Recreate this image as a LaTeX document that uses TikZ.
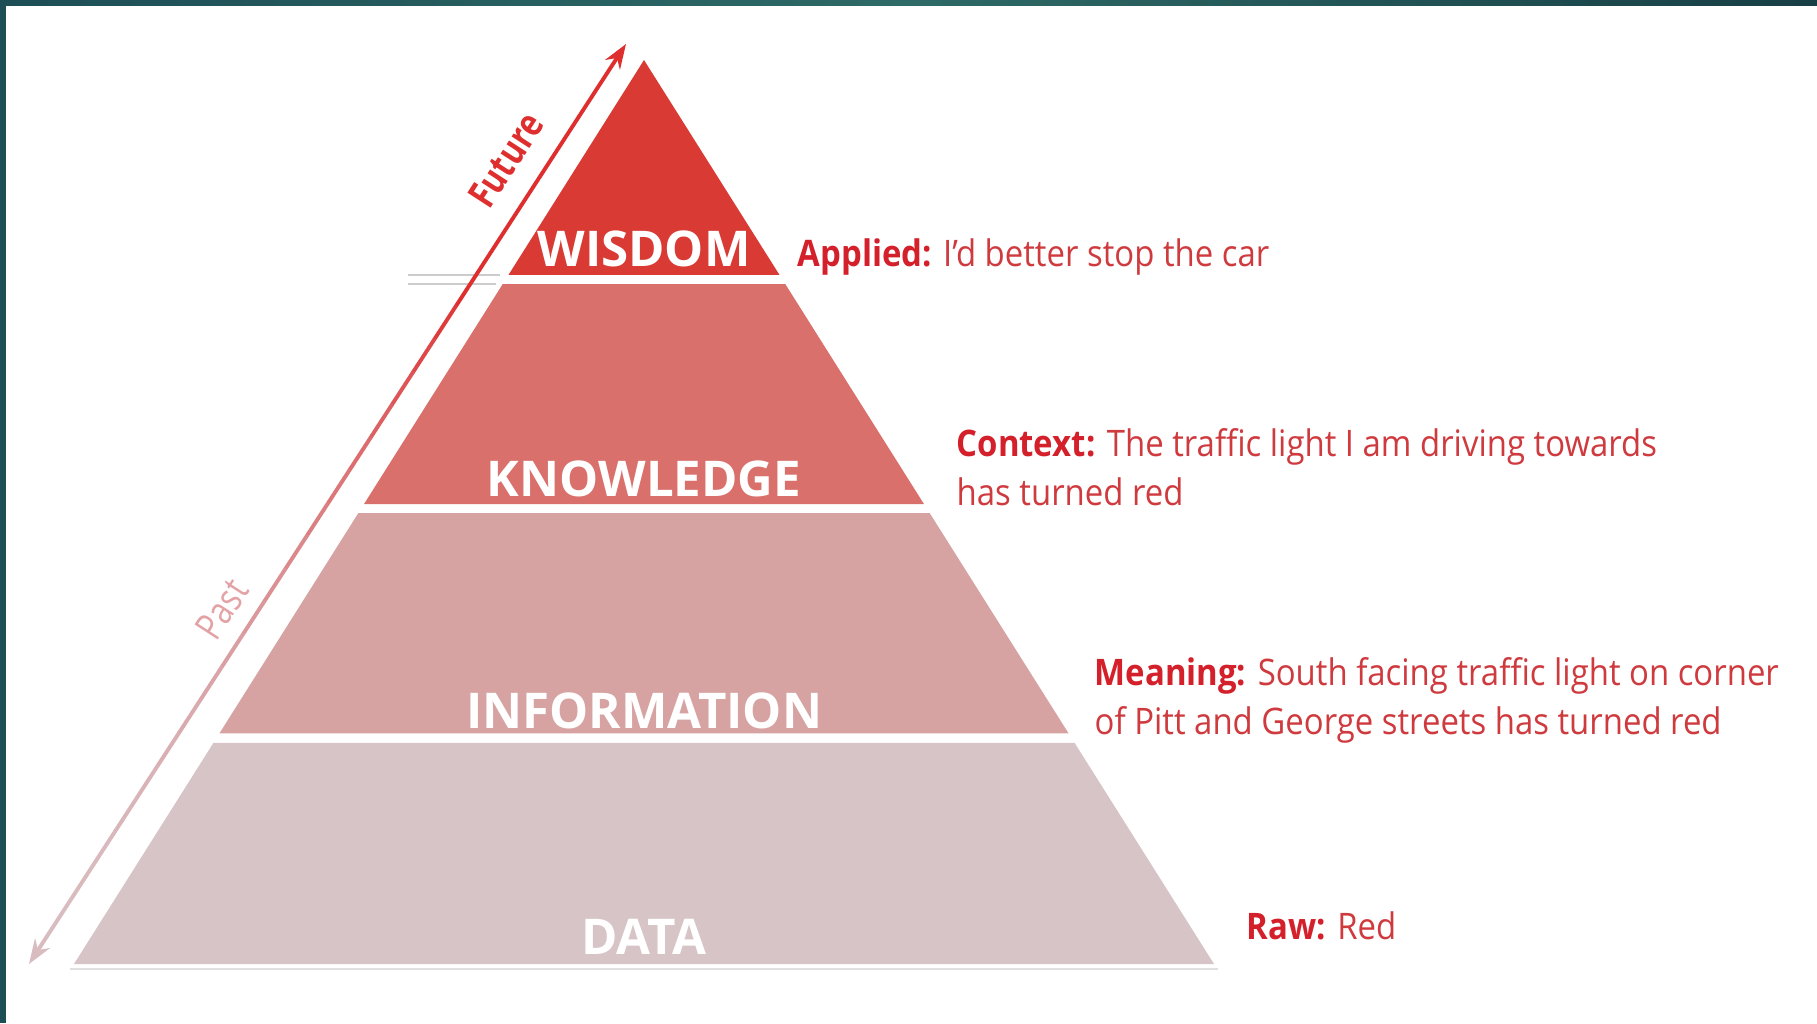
\documentclass[tikz,border=0pt]{standalone}
\usepackage{fontspec}
\setmainfont{Open Sans}
\newfontfamily\narrowfont[FakeStretch=0.8]{Open Sans}
\newfontfamily\notefont[FakeStretch=0.9]{Open Sans}
\usetikzlibrary{arrows.meta,calc,positioning}

\definecolor{frameteal}{HTML}{1D4E56}
\definecolor{frameteal2}{HTML}{2E6A66}
\definecolor{wisdomred}{HTML}{D93A33}
\definecolor{knowred}{HTML}{D9706B}
\definecolor{infored}{HTML}{D6A3A2}
\definecolor{datared}{HTML}{D7C4C6}
\definecolor{arrowred}{HTML}{DE2E2E}
\definecolor{arrowpale}{HTML}{D9BCC0}
\definecolor{pastpink}{HTML}{E3A3A6}
\definecolor{notered}{HTML}{CF3A3E}
\definecolor{notebold}{HTML}{D4202A}

\begin{document}
\begin{tikzpicture}[x=0.01cm,y=-0.01cm,
	lvl/.style={anchor=base, text=white,
		font=\fontsize{14}{16}\selectfont\bfseries},
	note/.style={anchor=base west, align=left, inner sep=0pt, text=notered,
		font=\notefont\fontsize{10.4}{13.9}\selectfont},
	tag/.style={rotate=57, inner sep=1pt,
		font=\narrowfont\fontsize{11}{13}\selectfont},
]
\useasboundingbox (0,0) rectangle (1817,1023);
\fill[white] (0,0) rectangle (1817,1023);

% frame
\fill[frameteal] (0,0) rectangle (6,1023);
\shade[left color=frameteal, right color=frameteal!80!black, middle color=frameteal2] (0,0) rectangle (1817,5);

% pyramid
\coordinate (apex) at (644,60);
\coordinate (bl) at (74,964);
\coordinate (br) at (1214,964);
\foreach \a/\b/\c in {0/0.2378/wisdomred, 0.2478/0.4912/knowred, 0.5011/0.745/infored, 0.7555/1/datared}
	\fill[\c] ($(apex)!\a!(bl)$) -- ($(apex)!\a!(br)$) -- ($(apex)!\b!(br)$) -- ($(apex)!\b!(bl)$) -- cycle;
\draw[black!12, line width=0.6pt] ($(bl)+(-4,5)$) -- ($(br)+(4,5)$);
%\fill[wisdomred!85!black] ...
\draw[black!20, line width=0.4pt] (408,275) -- (500,275) (408,284) -- (496,284);

\node[lvl] (wisdom) at (644,266) {WISDOM};
\node[lvl] (knowledge) at (644,496) {KNOWLEDGE};
\node[lvl] (information) at (644,728) {INFORMATION};
\node[lvl] (data) at (644,954) {DATA};

% time arrow
\coordinate (future) at (626,44);
\coordinate (past) at (29,964);
\coordinate (now) at ($(future)!0.25!(past)$);
\draw[arrowred, line width=1.1pt, {Stealth[length=7pt,width=5pt]}-] (future) -- (now);
\foreach \i in {0,...,19}{
	\pgfmathsetmacro\s{\i/20*0.95}
	\pgfmathsetmacro\t{(\i+1)/20*0.95}
	\pgfmathsetmacro\p{100*(1-\s/0.95)^2}
	\draw[arrowred!\p!arrowpale, line width=1.1pt, line cap=round] ($(now)!\s!(past)$) -- ($(now)!\t!(past)$);
}
\draw[arrowpale, line width=1.1pt, -{Stealth[length=7pt,width=5pt]}] ($(now)!0.95!(past)$) -- (past);

\node[tag, text=arrowred, font=\narrowfont\bfseries\fontsize{11}{13}\selectfont] (futurelbl) at (506,160) {Future};
\node[tag, text=pastpink] (pastlbl) at (222,609) {Past};

% notes
\node[note] (applied) at (797,266) {\textcolor{notebold}{\bfseries Applied:} I’d better stop the car};
\node[note] (context) at (956,505) {\textcolor{notebold}{\bfseries Context:} The traffic light I am driving towards\\has turned red};
\node[note] (meaning) at (1094,734) {\textcolor{notebold}{\bfseries Meaning:} South facing traffic light on corner\\of Pitt and George streets has turned red};
\node[note] (raw) at (1246,939) {\textcolor{notebold}{\bfseries Raw:} Red};

\end{tikzpicture}
\end{document}
